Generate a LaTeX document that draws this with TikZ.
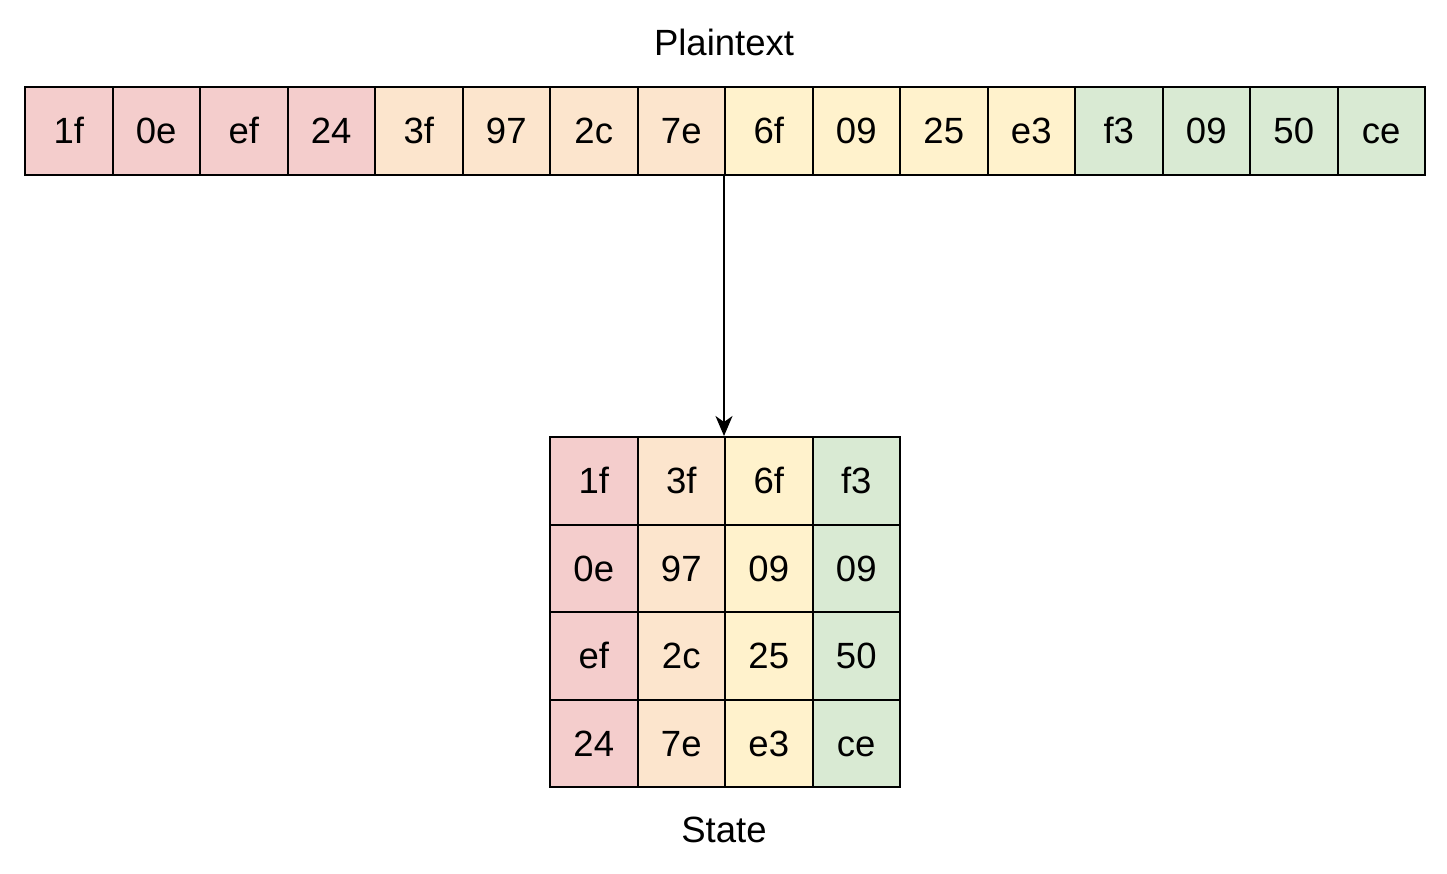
\documentclass[tikz,border=0pt]{standalone}
\usepackage{fontspec}
\setmainfont{Liberation Sans}
\usetikzlibrary{arrows.meta}
\definecolor{cred}{HTML}{F4CDCC}
\definecolor{corange}{HTML}{FCE5CD}
\definecolor{cyellow}{HTML}{FFF2CC}
\definecolor{cgreen}{HTML}{D9EAD3}
\begin{document}
\begin{tikzpicture}[x=1pt,y=-1pt,
  cell/.style={draw=black, line width=2pt, minimum width=87.5pt, minimum height=87.5pt, inner sep=0pt, font=\fontsize{36.5}{42}\selectfont, text height=26.1pt, text depth=0pt, anchor=north west},
  lbl/.style={font=\fontsize{36.5}{42}\selectfont, inner sep=0pt, text height=26.1pt, text depth=0pt},
  conn/.style={line width=2pt, -{Stealth[length=20pt,width=17pt,inset=6pt]}}]
\useasboundingbox (0,0) rectangle (1447,873);
\def\cols{{"cred","corange","cyellow","cgreen"}}
\foreach \t [count=\i from 0] in {1f,0e,ef,24,3f,97,2c,7e,6f,09,25,e3,f3,09,50,ce}{
  \pgfmathsetmacro{\g}{int(\i/4)}
  \pgfmathsetmacro{\c}{\cols[\g]}
  \node[cell, fill=\c] (p\i) at ({24+87.5*\i},86) {\t};
}
\foreach \t [count=\i from 0] in {1f,0e,ef,24,3f,97,2c,7e,6f,09,25,e3,f3,09,50,ce}{
  \pgfmathsetmacro{\col}{int(\i/4)}
  \pgfmathsetmacro{\row}{int(mod(\i,4))}
  \pgfmathsetmacro{\c}{\cols[\col]}
  \node[cell, fill=\c] (s\row\col) at ({549+87.5*\col},{436+87.5*\row}) {\t};
}
\node[lbl] (pt) at (724,42) {Plaintext};
\node[lbl] (st) at (724,829) {State};
\draw[conn] (p8.south west) -- (s02.north west);
\end{tikzpicture}
\end{document}
